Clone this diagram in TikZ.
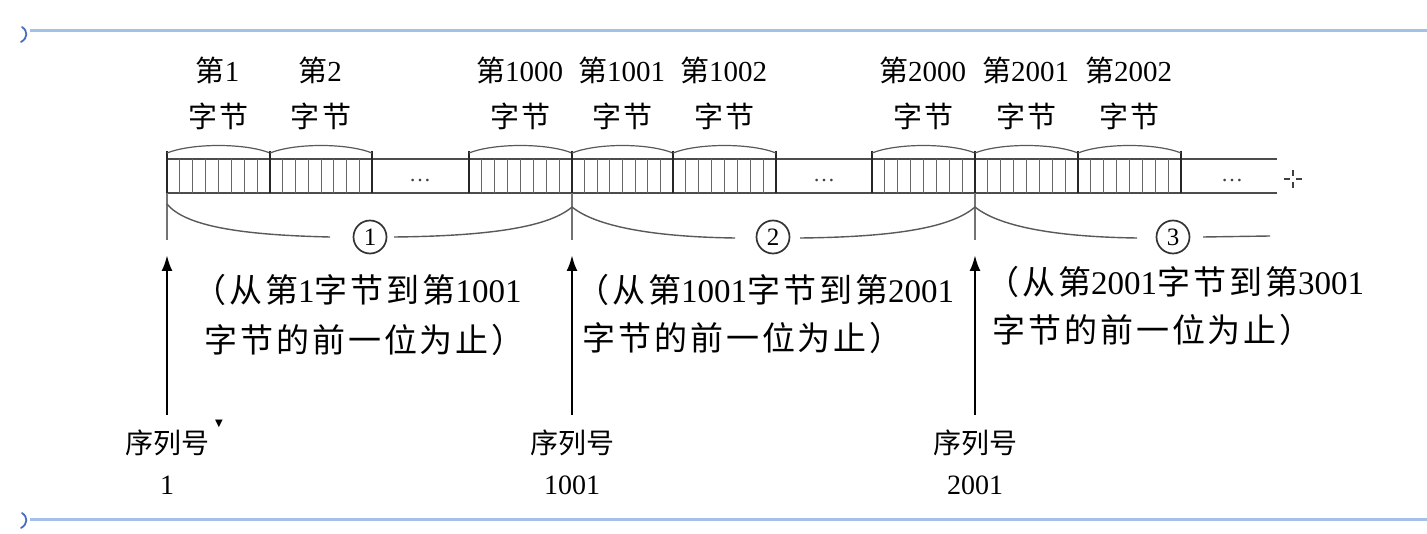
\documentclass[tikz,border=0pt]{standalone}
\usepackage{fontspec}
\setmainfont{Liberation Serif}
\newfontfamily\cjk{Noto Sans CJK SC}
\newfontfamily\cjkw[LetterSpace=9]{Noto Sans CJK SC}
\newfontfamily\symfont{DejaVu Sans}
\usetikzlibrary{arrows.meta}
\newcommand\zhtxt[1]{{\cjk #1}}
\newcommand\zhw[1]{{\cjkw #1}}
\definecolor{bluerule}{RGB}{165,192,232}
\definecolor{bluemark}{RGB}{70,110,190}
\begin{document}
\begin{tikzpicture}[x=1pt,y=-1pt,
  tape/.style={draw=black!70, line width=1.3pt},
  bitline/.style={draw=black!60, line width=0.9pt},
  edgeline/.style={draw=black!85, line width=1.8pt},
  arcline/.style={draw=black!65, line width=1.2pt},
  sepline/.style={draw=black!55, line width=1.1pt},
  braceline/.style={draw=black!65, line width=1.4pt},
  lab/.style={inner sep=0pt, font=\fontsize{29}{30}\selectfont, text=black},
  expl/.style={inner sep=0pt, anchor=west, font=\fontsize{33}{35}\selectfont, text=black},
  seq/.style={inner sep=0pt, font=\fontsize{28}{30}\selectfont, text=black},
  circ/.style={circle, draw=black!80, line width=1.7pt, minimum size=33pt, inner sep=0pt, font=\fontsize{25}{25}\selectfont, text=black},
  dots/.style={inner sep=0pt, font=\fontsize{22}{22}\selectfont, text=black!75},
  arr/.style={draw=black, line width=2.6pt, -{Latex[length=16pt,width=11pt]}},
  bluerl/.style={draw=bluerule, line width=3pt},
  bmark/.style={draw=bluemark, line width=1.8pt, line cap=round},
  cursorline/.style={draw=black!75, line width=1.4pt}
]
\useasboundingbox (0,0) rectangle (1427,534);
\fill[white] (0,0) rectangle (1427,534);

% blue rules
\draw[bluerl] (30,31) -- (1427,31);
\draw[bluerl] (30,519) -- (1427,519);
\draw[bmark] (22,27) .. controls (28,31) and (28,38) .. (21,42);
\draw[bmark] (22,513) .. controls (28,517) and (28,524) .. (21,528);

% tape
\draw[tape] (167,159) -- (1277,159);
\draw[tape] (167,193) -- (1277,193);

\foreach \a/\b/\n in {167/270/1, 270/372/2, 469/572/1000, 572/673/1001, 673/776/1002, 872/975/2000, 975/1078/2001, 1078/1181/2002}{
  \foreach \k in {1,...,7}{
    \draw[bitline] ({\a+(\b-\a)*\k/8},159) -- ({\a+(\b-\a)*\k/8},193);
  }
  \draw[edgeline] (\a,151) -- (\a,193);
  \draw[edgeline] (\b,151) -- (\b,193);
  \draw[arcline] (\a,153) .. controls ({\a+25},143) and ({\b-25},143) .. (\b,153);
  \node[lab] (t\n) at ({(\a+\b)/2-1},70) {\zhtxt{第}\n};
  \node[lab] (z\n) at ({(\a+\b)/2},116) {\zhw{字节}};
}

\node[dots] (d1) at (420,181) {…};
\node[dots] (d2) at (824,181) {…};
\node[dots] (d3) at (1232,181) {…};

% separators
\draw[sepline] (167,193) -- (167,240);
\draw[sepline] (572,193) -- (572,240);
\draw[sepline] (975,193) -- (975,240);

% braces
\node[circ] (c1) at (370,237) {1};
\node[circ] (c2) at (773,237) {2};
\node[circ] (c3) at (1173,237) {3};
\draw[braceline] (167,204) .. controls (185,226) and (240,235) .. (330,237);
\draw[braceline] (394,237) .. controls (495,236) and (550,226) .. (572,207);
\draw[braceline] (572,207) .. controls (598,228) and (660,237) .. (735,238);
\draw[braceline] (800,238) .. controls (898,237) and (952,227) .. (975,207);
\draw[braceline] (975,207) .. controls (1001,228) and (1062,237) .. (1137,238);
\draw[braceline] (1203,237) -- (1270,236);

% explanations
\node[expl] (e1a) at (193,290) {\zhw{（从第}1\zhw{字节到第}1001};
\node[expl] (e1b) at (204,340) {\zhw{字节的前一位为止）}};
\node[expl] (e2a) at (576,290) {\zhw{（从第}1001\zhw{字节到第}2001};
\node[expl] (e2b) at (582,338) {\zhw{字节的前一位为止）}};
\node[expl] (e3a) at (986,282) {\zhw{（从第}2001\zhw{字节到第}3001};
\node[expl] (e3b) at (992,330) {\zhw{字节的前一位为止）}};

% sequence labels
\node[seq] (s1) at (167,443) {\zhtxt{序列号}};
\node[seq] (n1) at (167,485) {1};
\node[seq] (s2) at (572,443) {\zhtxt{序列号}};
\node[seq] (n2) at (572,485) {1001};
\node[seq] (s3) at (975,443) {\zhtxt{序列号}};
\node[seq] (n3) at (975,485) {2001};
\node[inner sep=0pt, font=\symfont\fontsize{10}{10}\selectfont] (tri) at (219,424) {▼};

\coordinate (tip1) at (167,255);
\coordinate (tip2) at (572,255);
\coordinate (tip3) at (975,255);
\draw[arr, shorten <=15pt] (s1.north) -- (tip1);
\draw[arr, shorten <=15pt] (s2.north) -- (tip2);
\draw[arr, shorten <=15pt] (s3.north) -- (tip3);

% cursor
\draw[cursorline] (1284,179) -- (1290,179) (1296,179) -- (1302,179)
  (1293,170) -- (1293,176) (1293,182) -- (1293,188);
\end{tikzpicture}
\end{document}
